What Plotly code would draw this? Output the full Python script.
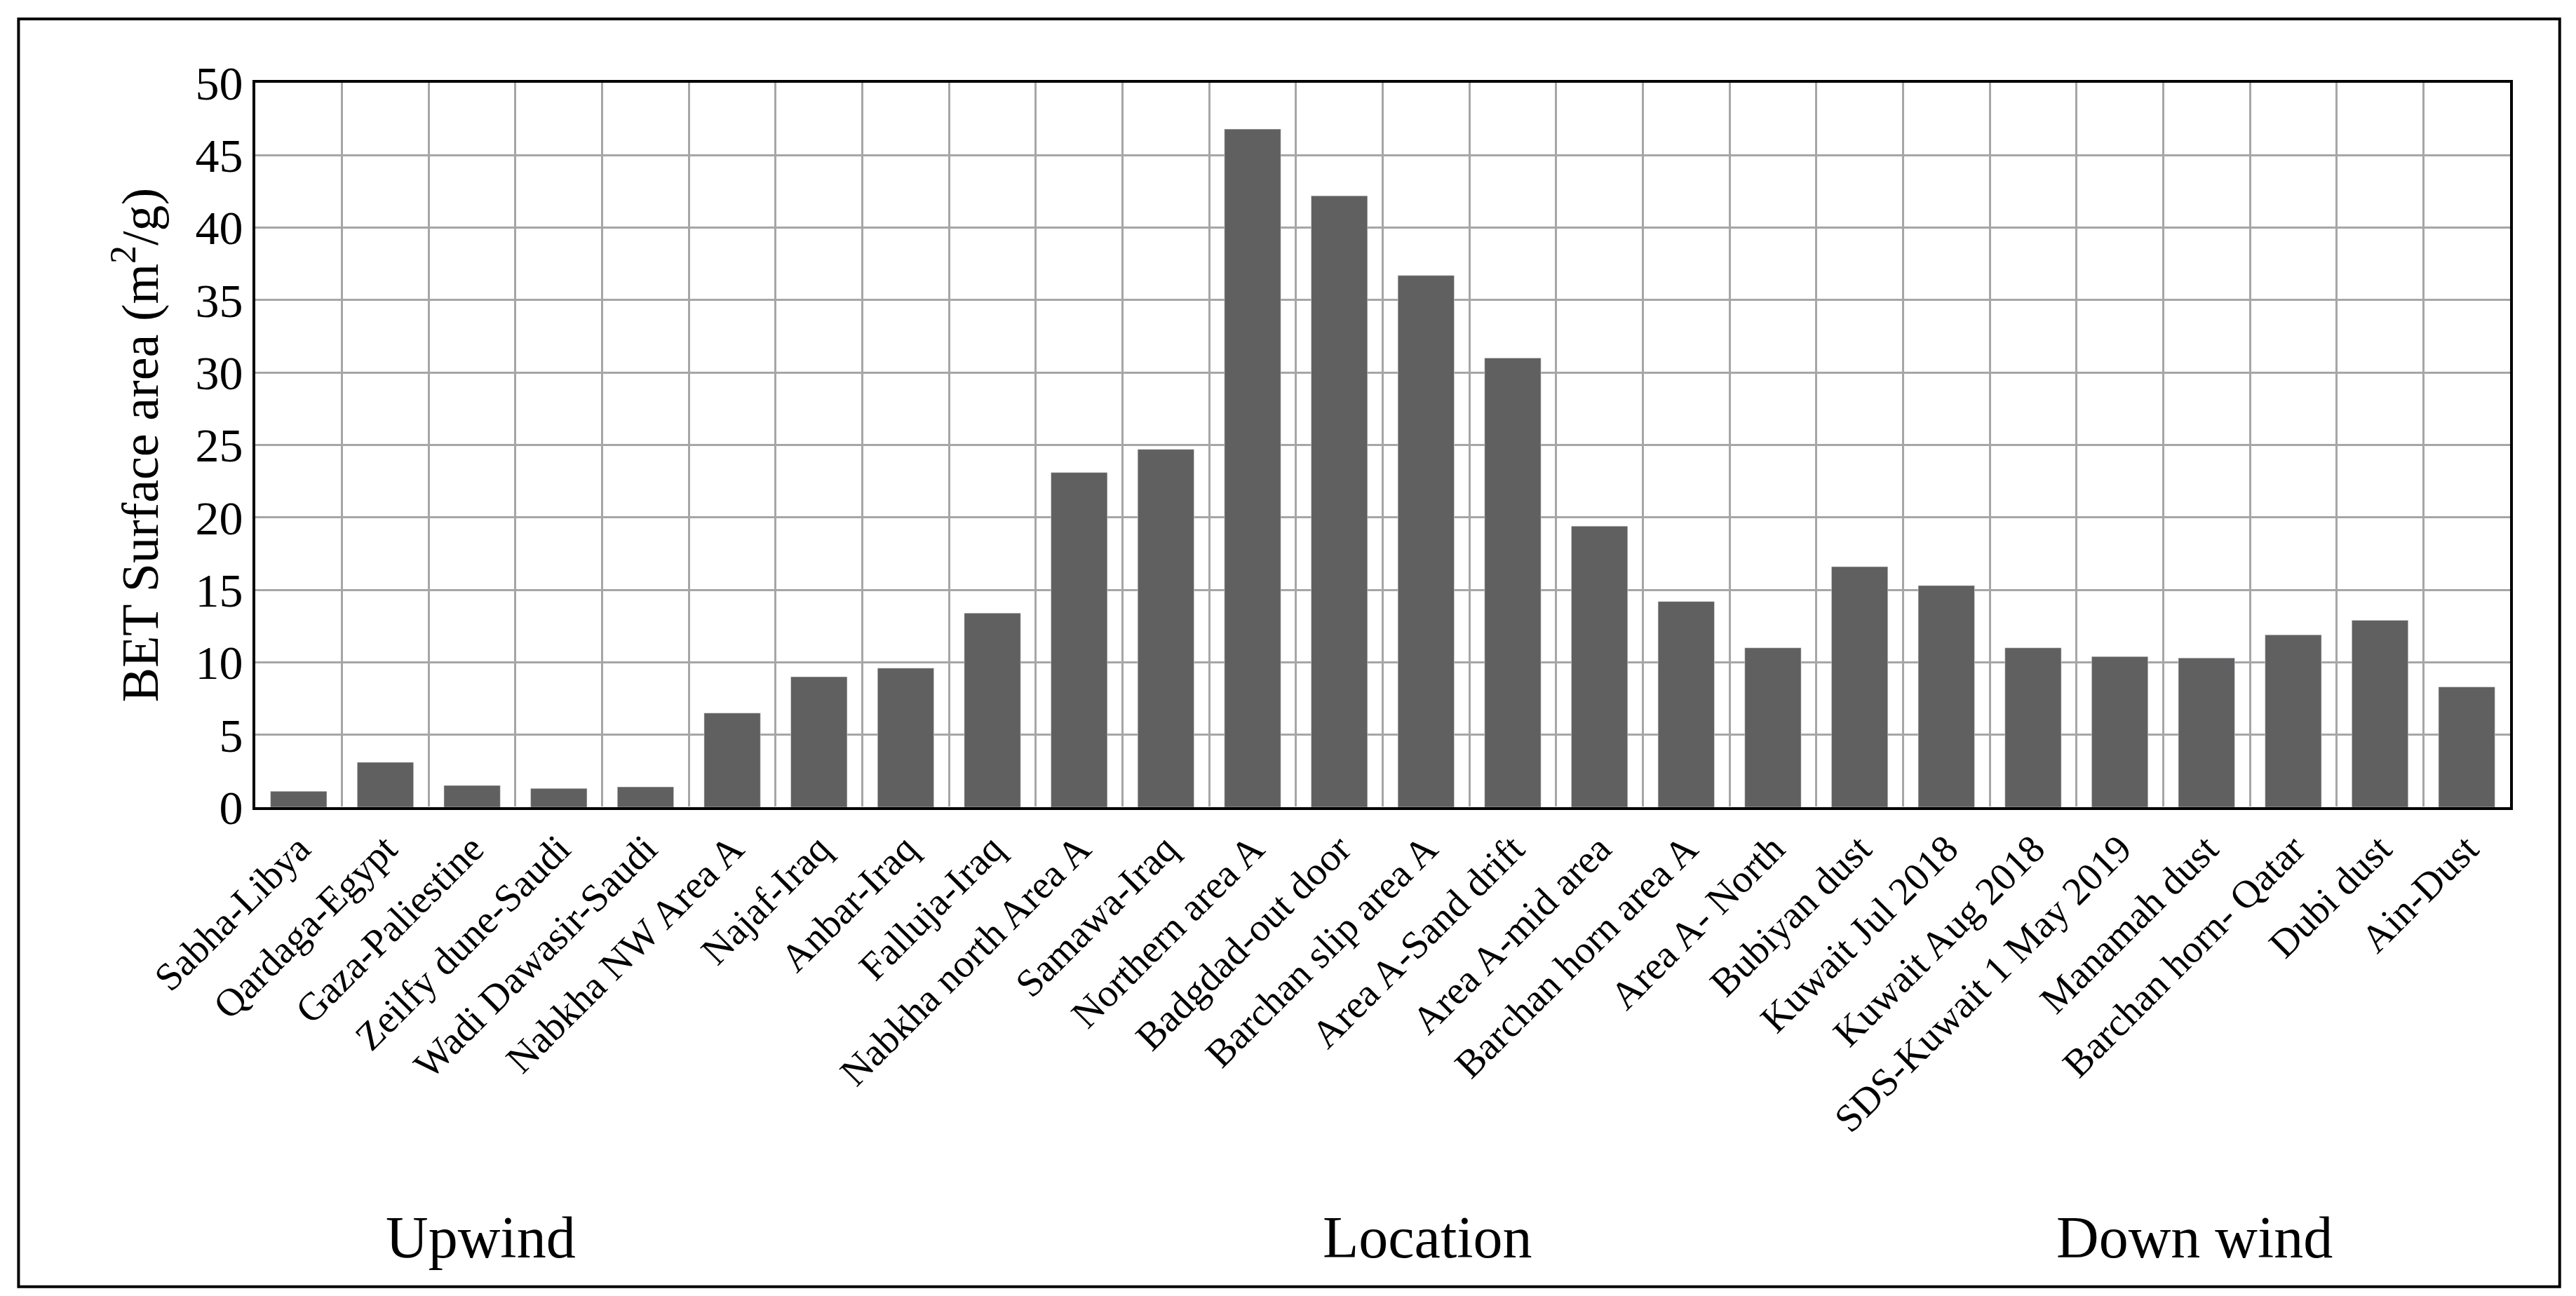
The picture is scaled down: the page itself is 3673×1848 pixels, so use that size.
import plotly.graph_objects as go

locations = ["Sabha-Libya","Qardaga-Egypt","Gaza-Paliestine","Zeilfy dune-Saudi","Wadi Dawasir-Saudi",
 "Nabkha NW Area A","Najaf-Iraq","Anbar-Iraq","Falluja-Iraq","Nabkha north Area A","Samawa-Iraq",
 "Northern area A","Badgdad-out door","Barchan slip area A","Area A-Sand drift","Area A-mid area",
 "Barchan horn area A","Area A- North","Bubiyan dust","Kuwait Jul 2018","Kuwait Aug 2018",
 "SDS-Kuwait 1 May 2019","Manamah dust","Barchan horn- Qatar","Dubi dust","Ain-Dust"]
bet_area = [1.1,3.1,1.5,1.3,1.4,6.5,9.0,9.6,13.4,23.1,24.7,46.8,42.2,36.7,31.0,19.4,14.2,11.0,16.6,15.3,11.0,10.4,10.3,11.9,12.9,8.3]
group_labels = ["Upwind","Location","Down wind"]
y_ticks = [0,5,10,15,20,25,30,35,40,45,50]

F = "Liberation Serif"
x = list(range(len(locations)))
fig = go.Figure(go.Bar(x=x, y=bet_area, marker_color="#606060", width=0.65))
fig.update_layout(
    width=3673, height=1848, paper_bgcolor="white", plot_bgcolor="white",
    margin=dict(l=356, r=102, t=110, b=705), showlegend=False,
    font=dict(family=F, color="black"),
    xaxis=dict(range=[-0.5, len(x)-0.5], tickvals=x, ticktext=locations, tickangle=-45,
               tickfont=dict(size=56, family=F), showgrid=False, ticks="",
               showline=True, linecolor="black", linewidth=4, mirror=True,
               minor=dict(tick0=0.5, dtick=1, showgrid=True, gridcolor="#a6a6a6", gridwidth=3)),
    yaxis=dict(range=[0, 50], tickvals=y_ticks, tickfont=dict(size=68, family=F),
               showgrid=True, gridcolor="#a6a6a6", gridwidth=3, ticks="",
               showline=True, linecolor="black", linewidth=4, mirror=True,
               title=dict(text="BET Surface area (m<sup>2</sup>/g)", font=dict(size=74, family=F), standoff=30)),
)
for px, t in zip([0.1, 0.52, 0.86], group_labels):
    fig.add_annotation(text=t, xref="paper", yref="paper", x=px, y=-0.594, showarrow=False,
                       font=dict(size=84, family=F), xanchor="center", yanchor="middle")
fig.add_shape(type="rect", xref="paper", yref="paper", x0=-0.105, x1=1.022, y0=-0.662, y1=1.088,
              line=dict(color="black", width=4))
fig.write_html("out.html")
